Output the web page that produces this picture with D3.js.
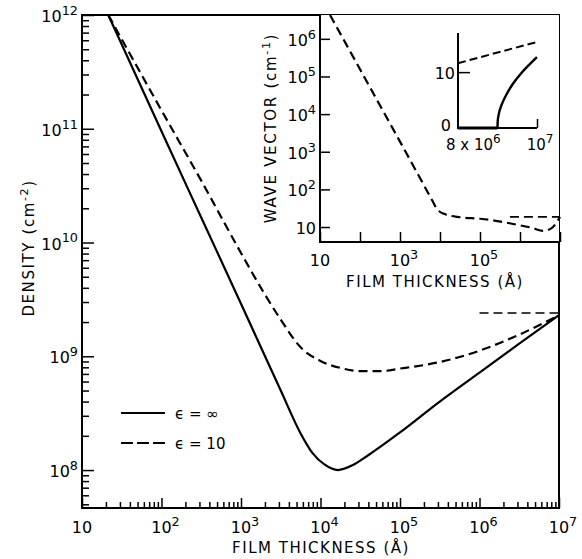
<!DOCTYPE html>
<html>
<head>
<meta charset="utf-8">
<script src="https://cdn.jsdelivr.net/npm/d3@7"></script>
<style>
  body { margin: 0; background: #fff; }
  svg { font-family: "DejaVu Sans", "Liberation Sans", sans-serif; }
</style>
</head>
<body>
<div id="chart"></div>
<script>
// main plot: density vs film thickness
const mainXExp = [1, 2, 3, 4, 5, 6, 7];
const mainYExp = [8, 9, 10, 11, 12];
const solidThick = [21.4, 100, 316, 1000, 3162, 5623, 7943, 1.12e4, 1.66e4, 2.51e4, 3.98e4, 1e5, 3.16e5, 1e6, 3.16e6, 1e7];
const solidDens = [1e12, 9.5e10, 1.66e10, 2.9e9, 5.0e8, 2.1e8, 1.41e8, 1.12e8, 1.0e8, 1.1e8, 1.35e8, 2.14e8, 4.0e8, 7.2e8, 1.29e9, 2.3e9];
const dashThick = [21.4, 100, 316, 1000, 1995, 3162, 5623, 1e4, 1.78e4, 3.16e4, 5.6e4, 1e5, 3.16e5, 1e6, 3.16e6, 1e7];
const dashDens = [1e12, 1.45e11, 3.5e10, 8.1e9, 3.5e9, 2.1e9, 1.2e9, 9.1e8, 7.9e8, 7.4e8, 7.4e8, 7.8e8, 8.9e8, 1.12e9, 1.55e9, 2.3e9];
const asymThick = [1e6, 1e7];
const asymDens = [2.4e9, 2.4e9];

// inset: wave vector vs film thickness
const insetXExp = [1, 3, 5];
const insetXTickExp = [1, 2, 3, 4, 5, 6, 7];
const insetYExp = [1, 2, 3, 4, 5, 6];
const waveThick = [17.8, 100, 1000, 3162, 6310, 8511, 1.26e4, 3.16e4, 1e5, 2.14e5, 6.8e5, 2e6, 3.8e6, 6.3e6, 1e7];
const waveVec = [4.3e6, 1.55e5, 1.86e3, 200, 52, 29.5, 22.4, 18.2, 16.6, 15.1, 12, 9.5, 7.9, 9.5, 18.6];
const waveAsymThick = [5.6e5, 1e7];
const waveAsymVec = [18.6, 18.6];

// small linear inset
const smallDashX = [8e6, 1e7];
const smallDashY = [11.6, 15.4];
const smallFlatX = [8e6, 9.0e6];
const smallFlatY = [0, 0];
const smallSolidX = [9.0e6, 9.005e6, 9.03e6, 9.08e6, 9.15e6, 9.25e6, 9.4e6, 9.6e6, 9.8e6, 1e7];
const smallSolidY = [0, 1.2, 2.4, 3.7, 4.9, 6.3, 8.0, 9.8, 11.3, 12.7];

const W = 582, H = 559;
const svg = d3.select('#chart').append('svg').attr('width', W).attr('height', H);

const x = d3.scaleLog().domain([10, 1e7]).range([82, 559]);
const y = d3.scaleLog().domain([4.64e7, 1e12]).range([508, 15]);

function supLabel(g, px, py, exp, anchor, size) {
  const t = g.append('text').attr('x', px).attr('y', py)
    .attr('text-anchor', anchor).attr('font-size', size).attr('fill', '#000');
  t.append('tspan').text('10');
  if (exp !== null) t.append('tspan').attr('dy', -size * 0.45).attr('font-size', size * 0.8).text(exp);
  return t;
}

function minorTicks(lo, hi) {
  const out = [];
  for (let e = Math.floor(Math.log10(lo)); e < Math.ceil(Math.log10(hi)); e++) {
    for (let m = 2; m <= 9; m++) {
      const v = m * Math.pow(10, e);
      if (v >= lo && v <= hi) out.push(v);
    }
  }
  return out;
}

// main axes ticks (inward)
svg.append('g').attr('transform', 'translate(0,508)')
  .call(d3.axisBottom(x).tickValues(minorTicks(10, 1e7)).tickSize(-6).tickFormat(''));
svg.append('g').attr('transform', 'translate(0,508)')
  .call(d3.axisBottom(x).tickValues(mainXExp.map(e => Math.pow(10, e))).tickSize(-10).tickFormat(''));
svg.append('g').attr('transform', 'translate(82,0)')
  .call(d3.axisLeft(y).tickValues(minorTicks(4.64e7, 1e12)).tickSize(-7).tickFormat(''));
svg.append('g').attr('transform', 'translate(82,0)')
  .call(d3.axisLeft(y).tickValues(mainYExp.map(e => Math.pow(10, e))).tickSize(-12).tickFormat(''));
svg.selectAll('.domain').remove();
svg.selectAll('.tick line').attr('stroke', '#000').attr('stroke-width', 1.5);

// frame
svg.append('rect').attr('x', 82).attr('y', 15).attr('width', 559 - 82).attr('height', 508 - 15)
  .attr('fill', 'none').attr('stroke', '#000').attr('stroke-width', 2);

// main tick labels
const labels = svg.append('g');
mainXExp.forEach(e => supLabel(labels, x(Math.pow(10, e)) + (e === 1 ? 0 : 4), 533, e === 1 ? null : String(e), 'middle', 16));
mainYExp.forEach(e => supLabel(labels, 78, y(Math.pow(10, e)) + 7, String(e), 'end', 16));

svg.append('text').attr('x', 321).attr('y', 553).attr('text-anchor', 'middle')
  .attr('font-size', 15).attr('letter-spacing', 1.5).text('FILM THICKNESS (Å)');
const yl = svg.append('text').attr('transform', 'translate(34,248) rotate(-90)')
  .attr('text-anchor', 'middle').attr('font-size', 15).attr('letter-spacing', 1.6);
yl.append('tspan').text('DENSITY (cm');
yl.append('tspan').attr('dy', -6).attr('font-size', 11).text('-2');
yl.append('tspan').attr('dy', 6).text(')');

// main curves
const line = d3.line().x(d => x(d[0])).y(d => y(d[1])).curve(d3.curveMonotoneX);
const zip = (a, b) => a.map((v, i) => [v, b[i]]);
svg.append('path').datum(zip(solidThick, solidDens)).attr('d', line)
  .attr('fill', 'none').attr('stroke', '#000').attr('stroke-width', 2.2);
svg.append('path').datum(zip(dashThick, dashDens)).attr('d', line)
  .attr('fill', 'none').attr('stroke', '#000').attr('stroke-width', 2.2).attr('stroke-dasharray', '9,5');
svg.append('path').datum(zip(asymThick, asymDens)).attr('d', d3.line().x(d => x(d[0])).y(d => y(d[1])))
  .attr('fill', 'none').attr('stroke', '#000').attr('stroke-width', 1.6).attr('stroke-dasharray', '9,5');

// legend
const leg = svg.append('g');
leg.append('line').attr('x1', 121).attr('x2', 165).attr('y1', 413).attr('y2', 413)
  .attr('stroke', '#000').attr('stroke-width', 2);
leg.append('line').attr('x1', 121).attr('x2', 165).attr('y1', 443).attr('y2', 443)
  .attr('stroke', '#000').attr('stroke-width', 2).attr('stroke-dasharray', '12,4');
leg.append('text').attr('x', 175).attr('y', 419).attr('font-size', 15).text('ϵ = ∞');
leg.append('text').attr('x', 175).attr('y', 449).attr('font-size', 15).text('ϵ = 10');

// ---------- inset ----------
const xi = d3.scaleLog().domain([10, 1e7]).range([320, 560]);
const yi = d3.scaleLog().domain([4, 4.3e6]).range([242, 15]);
const inset = svg.append('g');
inset.append('rect').attr('x', 320).attr('y', 15).attr('width', 239).attr('height', 227).attr('fill', '#fff');
inset.append('g').attr('transform', 'translate(0,242)')
  .call(d3.axisBottom(xi).tickValues(insetXTickExp.map(e => Math.pow(10, e))).tickSize(-10).tickFormat(''));
inset.append('g').attr('transform', 'translate(320,0)')
  .call(d3.axisLeft(yi).tickValues(insetYExp.map(e => Math.pow(10, e))).tickSize(-10).tickFormat(''));
inset.selectAll('.domain').remove();
inset.selectAll('.tick line').attr('stroke', '#000').attr('stroke-width', 1.5);
inset.append('path').attr('d', 'M320,15V242H559').attr('fill', 'none').attr('stroke', '#000').attr('stroke-width', 2);

insetXExp.forEach(e => supLabel(inset, xi(Math.pow(10, e)) + (e === 1 ? 0 : 4), 266, e === 1 ? null : String(e), 'middle', 16));
insetYExp.forEach(e => supLabel(inset, 316, yi(Math.pow(10, e)) + 7, e === 1 ? null : String(e), 'end', 16));

inset.append('text').attr('x', 435).attr('y', 287).attr('text-anchor', 'middle')
  .attr('font-size', 15).attr('letter-spacing', 1.5).text('FILM THICKNESS (Å)');
const yil = inset.append('text').attr('transform', 'translate(276,128) rotate(-90)')
  .attr('text-anchor', 'middle').attr('font-size', 15).attr('letter-spacing', 1.7);
yil.append('tspan').text('WAVE VECTOR (cm');
yil.append('tspan').attr('dy', -6).attr('font-size', 11).text('-1');
yil.append('tspan').attr('dy', 6).text(')');

const lineI = d3.line().x(d => xi(d[0])).y(d => yi(d[1])).curve(d3.curveMonotoneX);
inset.append('path').datum(zip(waveThick, waveVec)).attr('d', lineI)
  .attr('fill', 'none').attr('stroke', '#000').attr('stroke-width', 2.2).attr('stroke-dasharray', '9,5');
inset.append('path').datum(zip(waveAsymThick, waveAsymVec)).attr('d', d3.line().x(d => xi(d[0])).y(d => yi(d[1])))
  .attr('fill', 'none').attr('stroke', '#000').attr('stroke-width', 1.6).attr('stroke-dasharray', '9,5');

// ---------- small linear inset ----------
const xs = d3.scaleLinear().domain([8e6, 1e7]).range([458, 537]);
const ys = d3.scaleLinear().domain([0, 17]).range([128, 33]);
const small = svg.append('g');
small.append('path').attr('d', `M${xs(8e6)},${ys(17)}V${ys(0)}H${xs(1e7)}`)
  .attr('fill', 'none').attr('stroke', '#000').attr('stroke-width', 2);
small.append('g').attr('transform', `translate(0,${ys(0)})`)
  .call(d3.axisBottom(xs).tickValues([1e7]).tickSize(-9).tickFormat(''));
small.append('g').attr('transform', `translate(${xs(8e6)},0)`)
  .call(d3.axisLeft(ys).tickValues([10]).tickSize(-12).tickFormat(''));
small.selectAll('.domain').remove();
small.selectAll('.tick line').attr('stroke', '#000').attr('stroke-width', 1.5);
small.append('text').attr('x', 455).attr('y', ys(10) + 7).attr('text-anchor', 'end').attr('font-size', 16).text('10');
small.append('text').attr('x', 451).attr('y', ys(0) + 3).attr('text-anchor', 'end').attr('font-size', 16).text('0');
const lab8 = small.append('text').attr('x', 446).attr('y', 150).attr('font-size', 15);
lab8.append('tspan').text('8 x 10');
lab8.append('tspan').attr('dy', -7).attr('font-size', 12).text('6');
supLabel(small, xs(1e7) + 3, 150, '7', 'middle', 15);

const lineS = d3.line().x(d => xs(d[0])).y(d => ys(d[1])).curve(d3.curveMonotoneX);
small.append('path').datum(zip(smallDashX, smallDashY)).attr('d', d3.line().x(d => xs(d[0])).y(d => ys(d[1])))
  .attr('fill', 'none').attr('stroke', '#000').attr('stroke-width', 2).attr('stroke-dasharray', '8,4');
small.append('path').datum(zip(smallFlatX, smallFlatY)).attr('d', d3.line().x(d => xs(d[0])).y(d => ys(d[1])))
  .attr('fill', 'none').attr('stroke', '#000').attr('stroke-width', 3);
small.append('path').datum(zip(smallSolidX, smallSolidY)).attr('d', lineS)
  .attr('fill', 'none').attr('stroke', '#000').attr('stroke-width', 2.4);
</script>
</body>
</html>
